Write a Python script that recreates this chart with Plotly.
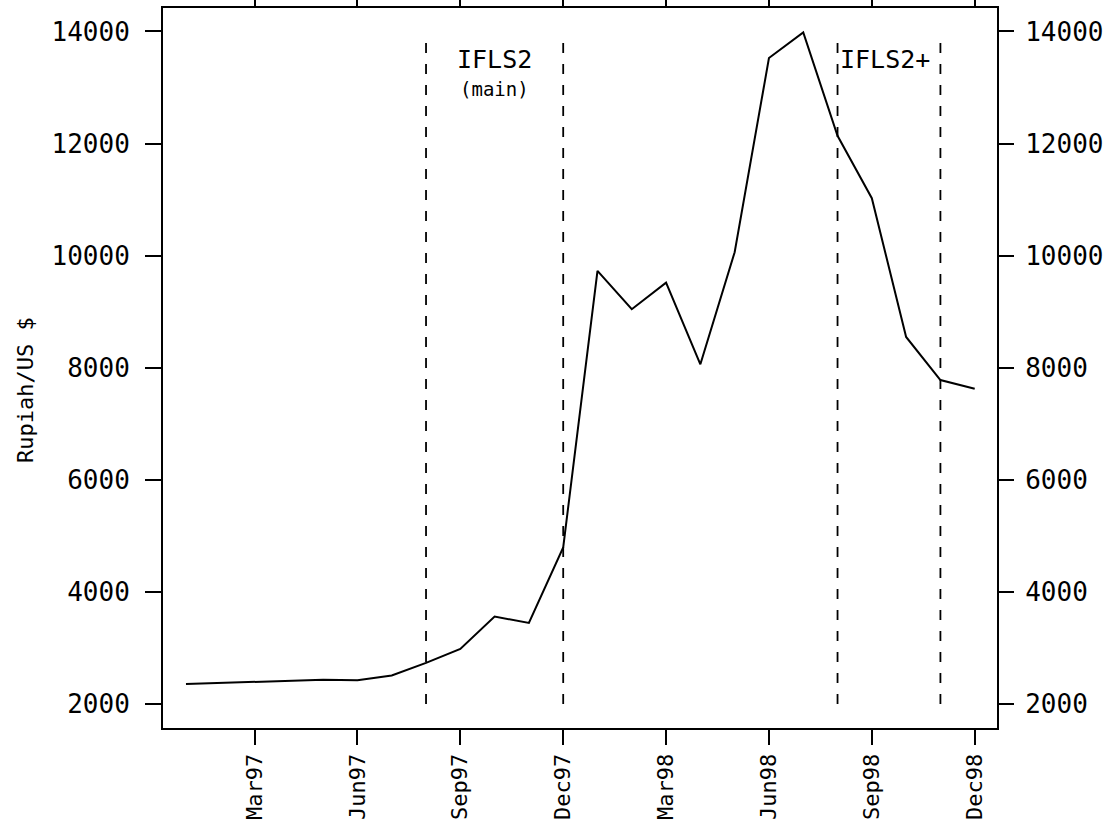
import plotly.graph_objects as go

# month index: Jan97 = 1 ... Dec98 = 24
months = list(range(1, 25))
rupiah = [2357, 2375, 2393, 2405, 2430, 2423, 2507, 2732, 2982, 3560, 3446, 4793,
          9727, 9043, 9518, 8061, 10061, 13525, 13982, 12137, 11025, 8548, 7780, 7625]

tick_vals = [3, 6, 9, 12, 15, 18, 21, 24]
tick_text = ["Mar97", "Jun97", "Sep97", "Dec97", "Mar98", "Jun98", "Sep98", "Dec98"]

y_ticks = [2000, 4000, 6000, 8000, 10000, 12000, 14000]
y_tick_text = [str(v) for v in y_ticks]

# survey period boundaries (month index)
period_lines = [8, 12, 20, 23]
period_lo = 2000
period_hi = 13800

FONT = "DejaVu Sans Mono"

fig = go.Figure()

for m in period_lines:
    fig.add_trace(go.Scatter(x=[m, m], y=[period_lo, period_hi], mode="lines",
                             line=dict(color="black", width=1.8, dash="10px,11px"),
                             hoverinfo="skip", showlegend=False))

fig.add_trace(go.Scatter(x=months, y=rupiah, mode="lines",
                         line=dict(color="black", width=2), showlegend=False))

# invisible copy on the right axis so the mirrored labelled axis renders
fig.add_trace(go.Scatter(x=months, y=rupiah, mode="lines", yaxis="y2",
                         line=dict(color="rgba(0,0,0,0)", width=0),
                         hoverinfo="skip", showlegend=False))

yr = [1571, 14418]
xr = [0.33, 24.65]

L, R, T, B = 163, 113, 8, 99
plot_w = 1110 - L - R
plot_h = 827 - T - B

fig.update_layout(
    width=1110, height=827,
    margin=dict(l=L, r=R, t=T, b=B, autoexpand=False),
    paper_bgcolor="white", plot_bgcolor="white",
    font=dict(family=FONT, color="black"),
    xaxis=dict(range=xr, tickvals=tick_vals, ticktext=tick_text, tickangle=-90,
               showgrid=False, zeroline=False, showline=True, linecolor="black",
               linewidth=2, mirror="ticks", ticks="outside", ticklen=15,
               tickwidth=2, tickcolor="black", automargin=False,
               tickfont=dict(family=FONT, size=22, color="black")),
    yaxis=dict(range=yr, tickvals=y_ticks, ticktext=y_tick_text, showgrid=False,
               zeroline=False, showline=True, linecolor="black", linewidth=2,
               mirror=True, ticks="outside", ticklen=16, tickwidth=2,
               tickcolor="black", ticklabelstandoff=10, automargin=False,
               tickfont=dict(family=FONT, size=26, color="black")),
    yaxis2=dict(range=yr, tickvals=y_ticks, ticktext=y_tick_text, overlaying="y",
                side="right", showgrid=False, zeroline=False, showline=False,
                ticks="outside", ticklen=16, tickwidth=2, tickcolor="black",
                ticklabelstandoff=6, automargin=False,
                tickfont=dict(family=FONT, size=26, color="black")),
    annotations=[
        dict(x=(25 - L) / plot_w, y=(827 - 390 - B) / plot_h,
             xref="paper", yref="paper", xanchor="center", yanchor="middle",
             text="Rupiah/US $", textangle=-90,
             showarrow=False, font=dict(family=FONT, size=22, color="black")),
        dict(x=(period_lines[0] + period_lines[1]) / 2, y=13495, xref="x", yref="y",
             text="IFLS2", showarrow=False, font=dict(family=FONT, size=25, color="black")),
        dict(x=(period_lines[0] + period_lines[1]) / 2, y=12977, xref="x", yref="y",
             text="(main)", showarrow=False, font=dict(family=FONT, size=19, color="black")),
        dict(x=period_lines[2], y=13495, xref="x", yref="y", xanchor="left",
             text="IFLS2+", showarrow=False, font=dict(family=FONT, size=25, color="black")),
    ],
)

fig.write_html("out.html", config={"displayModeBar": False},
               post_script="document.body.style.margin='0';")
